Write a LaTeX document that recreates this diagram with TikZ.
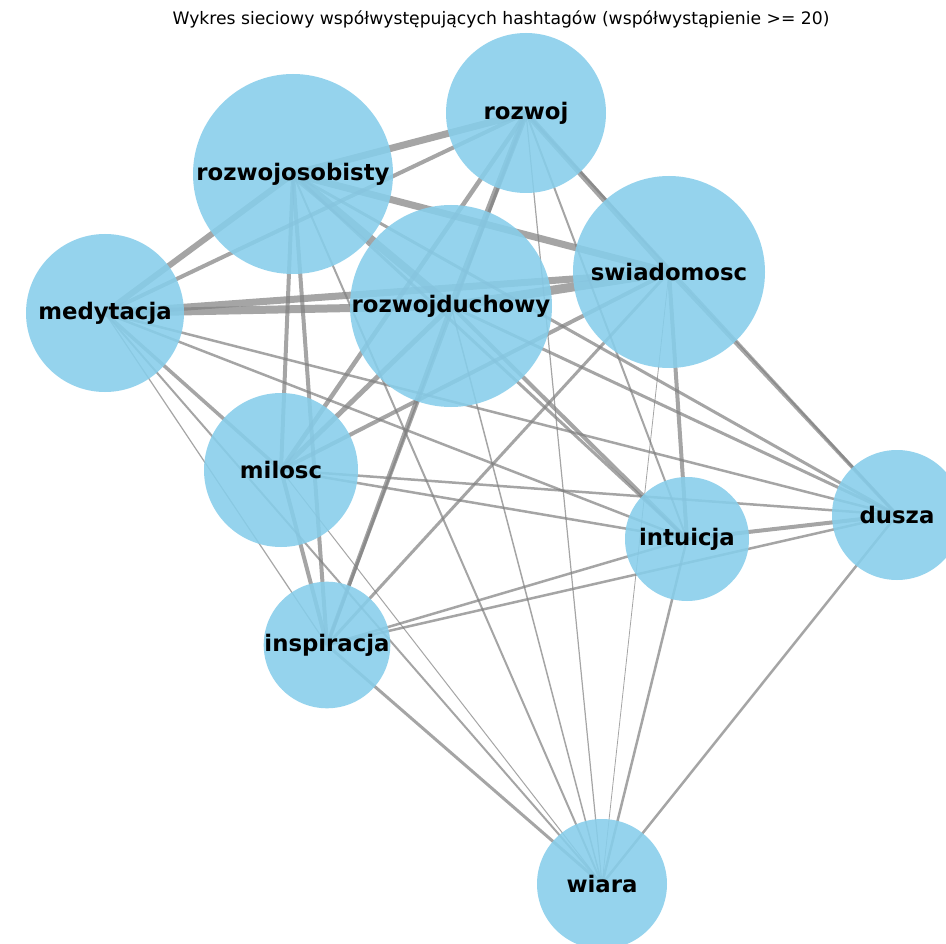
\documentclass[tikz,border=0pt]{standalone}
\usepackage{fontspec}
\setmainfont{DejaVu Sans}
\usetikzlibrary{backgrounds}
\definecolor{nodeblue}{RGB}{135,206,235}
\definecolor{edgegray}{RGB}{128,128,128}
\begin{document}
\begin{tikzpicture}[x=1pt,y=-1pt,
  hub/.style={circle, fill=nodeblue, fill opacity=0.88, text opacity=1, draw=none,
    inner sep=0pt, text=black, font=\bfseries\fontsize{22.8}{26}\selectfont},
  link/.style={draw=edgegray, draw opacity=0.7, line width=#1},
  titletext/.style={font=\fontsize{17.2}{20}\selectfont, text=black}
]
\useasboundingbox (0,0) rectangle (946,944);
\clip (0,0) rectangle (946,944);

\node[hub, minimum size=200pt] (ro) at (293,174) {rozwojosobisty};
\node[hub, minimum size=160pt] (rz) at (526,113) {rozwoj};
\node[hub, minimum size=192pt] (sw) at (669,272) {swiadomosc};
\node[hub, minimum size=202pt] (rd) at (451,306) {rozwojduchowy};
\node[hub, minimum size=158pt] (me) at (105,313) {medytacja};
\node[hub, minimum size=154pt] (mi) at (281,470) {milosc};
\node[hub, minimum size=124pt] (in) at (687,539) {intuicja};
\node[hub, minimum size=130pt] (du) at (897,515) {dusza};
\node[hub, minimum size=122pt] (is) at (327,645) {inspiracja};
\node[hub, minimum size=130pt] (wi) at (602,884) {wiara};

\node[titletext] (title) at (501,19) {Wykres sieciowy współwystępujących hashtagów (współwystąpienie >= 20)};

\begin{pgfonlayer}{background}
\fill[white] (0,0) rectangle (946,944);
\foreach \a/\b/\w in {
  ro/rz/7, ro/sw/7, ro/rd/8, ro/me/6, ro/mi/4, ro/is/4, ro/in/3, ro/du/3, ro/wi/2,
  rz/sw/5.5, rz/rd/6, rz/me/4, rz/mi/4.5, rz/is/3, rz/in/2, rz/du/2.5, rz/wi/1.2,
  sw/rd/9, sw/me/7, sw/mi/4, sw/is/3, sw/in/4, sw/du/3.5, sw/wi/0.8,
  rd/me/8, rd/mi/5, rd/is/4, rd/in/4, rd/du/3, rd/wi/1.5,
  me/mi/3.5, me/is/1.2, me/in/2.5, me/du/2.5, me/wi/2,
  mi/is/4, mi/in/2.5, mi/du/2.5, mi/wi/1,
  is/in/2.5, is/du/2.5, is/wi/3,
  in/du/4, in/wi/2.5, du/wi/2.5}
  \draw[link=\w pt] (\a.center) -- (\b.center);
\end{pgfonlayer}
\end{tikzpicture}
\end{document}
